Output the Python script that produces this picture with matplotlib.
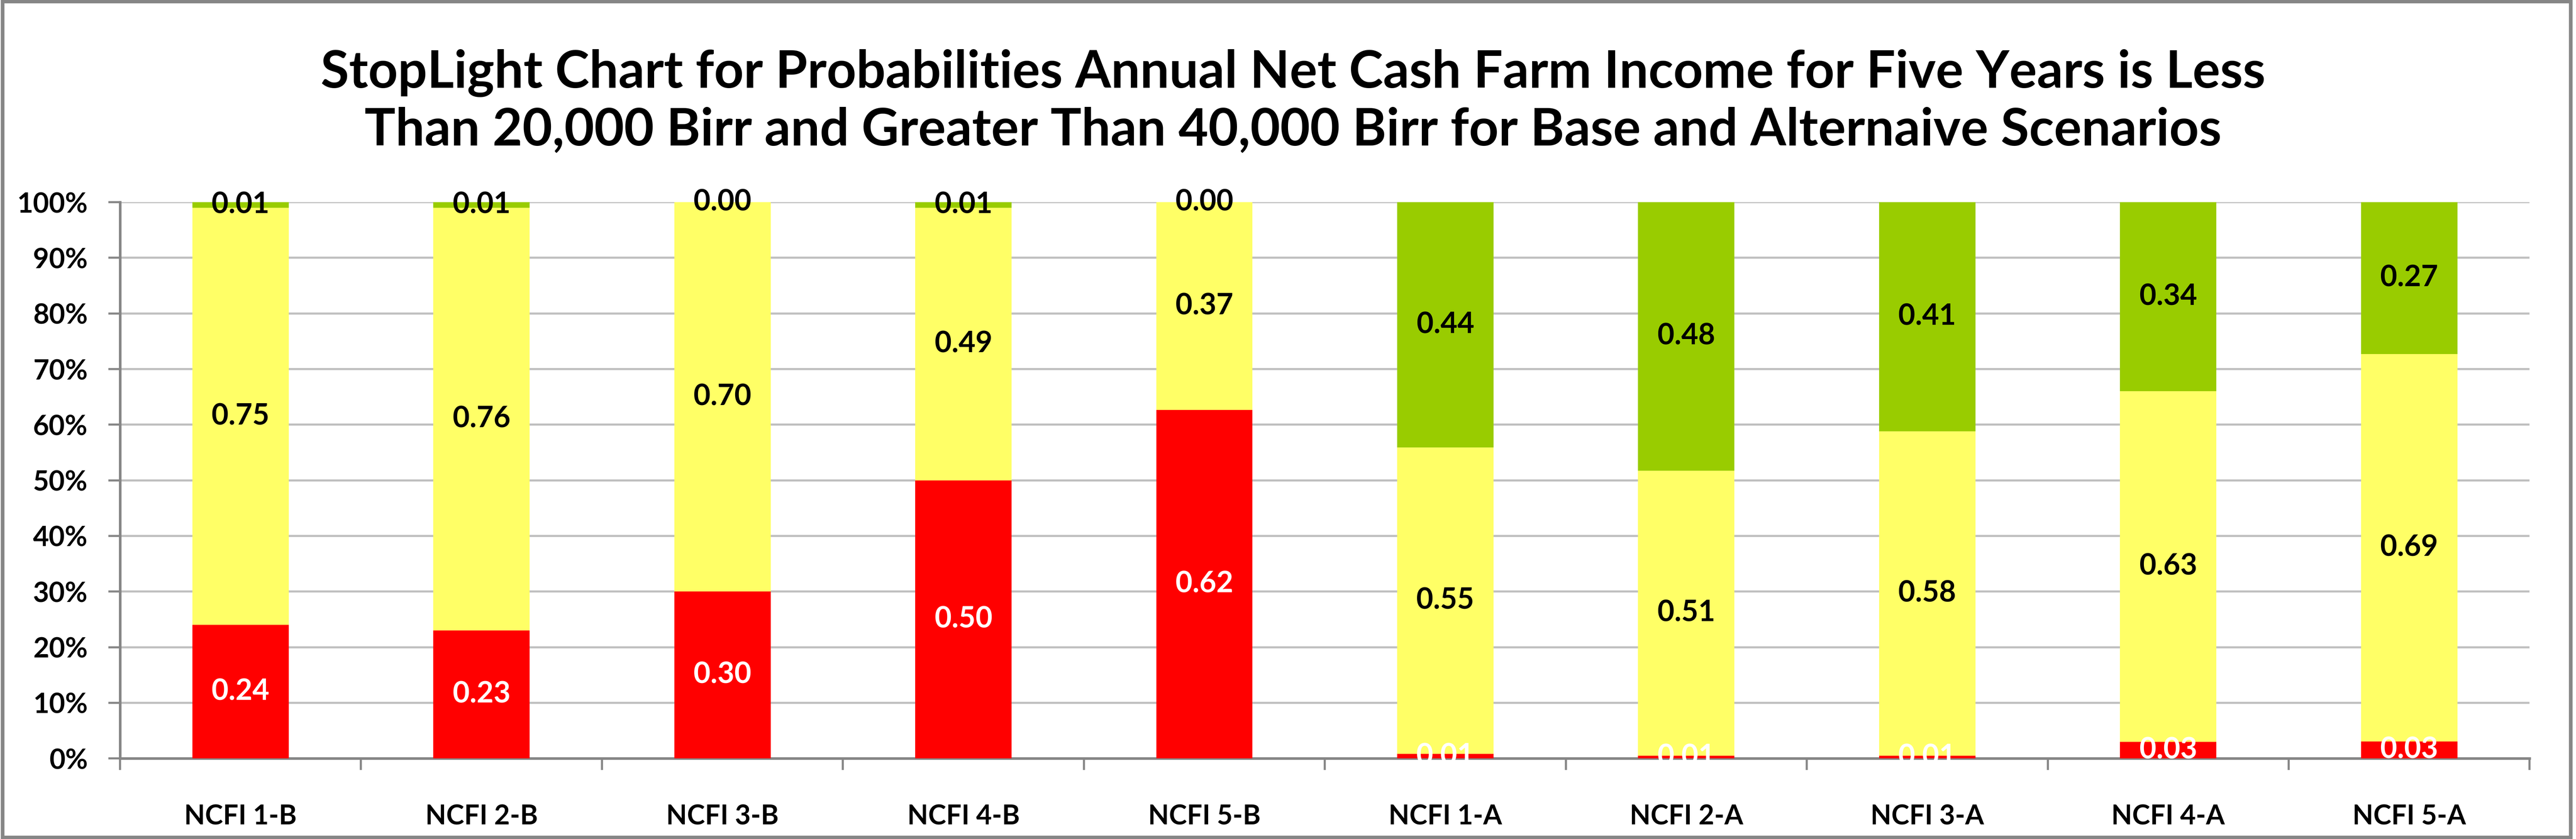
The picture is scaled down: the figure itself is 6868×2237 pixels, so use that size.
"""
StopLight chart: probabilities that annual net cash farm income is below
20,000 Birr, between, or above 40,000 Birr (base vs alternative scenarios).
"""

import matplotlib
matplotlib.use("Agg")
import matplotlib.pyplot as plt
from matplotlib.patches import Rectangle
import numpy as np

# ── data ──────────────────────────────────────────────────────────────────────
CATEGORIES = ["NCFI 1-B", "NCFI 2-B", "NCFI 3-B", "NCFI 4-B", "NCFI 5-B",
              "NCFI 1-A", "NCFI 2-A", "NCFI 3-A", "NCFI 4-A", "NCFI 5-A"]
P_LOW  = [0.24, 0.23, 0.30, 0.50, 0.62, 0.008, 0.005, 0.005, 0.03, 0.03]   # < 20,000
P_MID  = [0.75, 0.76, 0.70, 0.49, 0.37, 0.55, 0.51, 0.58, 0.63, 0.69]      # between
P_HIGH = [0.01, 0.01, 0.00, 0.01, 0.00, 0.44, 0.48, 0.41, 0.34, 0.27]      # > 40,000
Y_TICKS = [0, 10, 20, 30, 40, 50, 60, 70, 80, 90, 100]

TITLE = ("StopLight Chart for Probabilities Annual Net Cash Farm Income for Five Years is Less\n"
         "Than 20,000 Birr and Greater Than 40,000 Birr for Base and Alternaive Scenarios")

# ── style ─────────────────────────────────────────────────────────────────────
RED, YELLOW, GREEN = "#FF0000", "#FFFF66", "#99CC00"
GRID, AXIS = "#BFBFBF", "#868686"
FONT = ["Lato", "DejaVu Sans"]
plt.rcParams["font.family"] = FONT
plt.rcParams["font.weight"] = "bold"

DPI = 100
fig = plt.figure(figsize=(6868 / DPI, 2237 / DPI), dpi=DPI)
ax = fig.add_axes([0.0466, 0.096, 0.9354, 0.663])

low, mid, high = (np.array(a, dtype=float) for a in (P_LOW, P_MID, P_HIGH))
total = low + mid + high
# 100% stacked: normalise every column
low, mid, high = low / total * 100, mid / total * 100, high / total * 100

x = np.arange(len(CATEGORIES))
w = 0.40
ax.bar(x, low, w, color=RED, zorder=3)
ax.bar(x, mid, w, bottom=low, color=YELLOW, zorder=3)
ax.bar(x, high, w, bottom=low + mid, color=GREEN, zorder=3)

# segment labels
for i in range(len(x)):
    ax.text(x[i], low[i] / 2, f"{P_LOW[i]:.2f}", ha="center", va="center",
            color="white", fontsize=56, fontweight="bold", zorder=5)
    ax.text(x[i], low[i] + mid[i] / 2, f"{P_MID[i]:.2f}", ha="center", va="center",
            color="black", fontsize=56, fontweight="bold", zorder=5)
    ax.text(x[i], low[i] + mid[i] + high[i] / 2, f"{P_HIGH[i]:.2f}", ha="center",
            va="center", color="black", fontsize=56, fontweight="bold", zorder=5)

ax.set_xlim(-0.5, len(x) - 0.5)
ax.set_ylim(0, 100)
ax.set_yticks(Y_TICKS)
ax.set_yticklabels([f"{t}%" for t in Y_TICKS], fontsize=53, fontweight="bold")
ax.yaxis.grid(True, color=GRID, linewidth=4, zorder=0)
ax.set_axisbelow(True)

# x ticks at category boundaries, labels at centres
ax.set_xticks(np.arange(len(x) + 1) - 0.5)
ax.set_xticklabels([])
ax.set_xticks(x, minor=True)
ax.set_xticklabels(CATEGORIES, minor=True, fontsize=52, fontweight="bold")
ax.tick_params(axis="x", which="minor", length=0, pad=88)
ax.tick_params(axis="x", which="major", length=22, width=4, color=AXIS, direction="out")
ax.tick_params(axis="y", length=22, width=4, color=AXIS, direction="out", pad=40)

for side in ("top", "right"):
    ax.spines[side].set_visible(False)
for side in ("left", "bottom"):
    ax.spines[side].set_color(AXIS)
    ax.spines[side].set_linewidth(5)

fig.text(0.502, 0.879, TITLE, ha="center", va="center", fontsize=99,
         fontweight="bold", linespacing=1.25)

# outer chart border
fig.patches.append(Rectangle((0.001, 0.002), 0.997, 0.996, transform=fig.transFigure,
                             fill=False, edgecolor=AXIS, linewidth=7))

fig.savefig("out.png", dpi=DPI)
plt.close(fig)
